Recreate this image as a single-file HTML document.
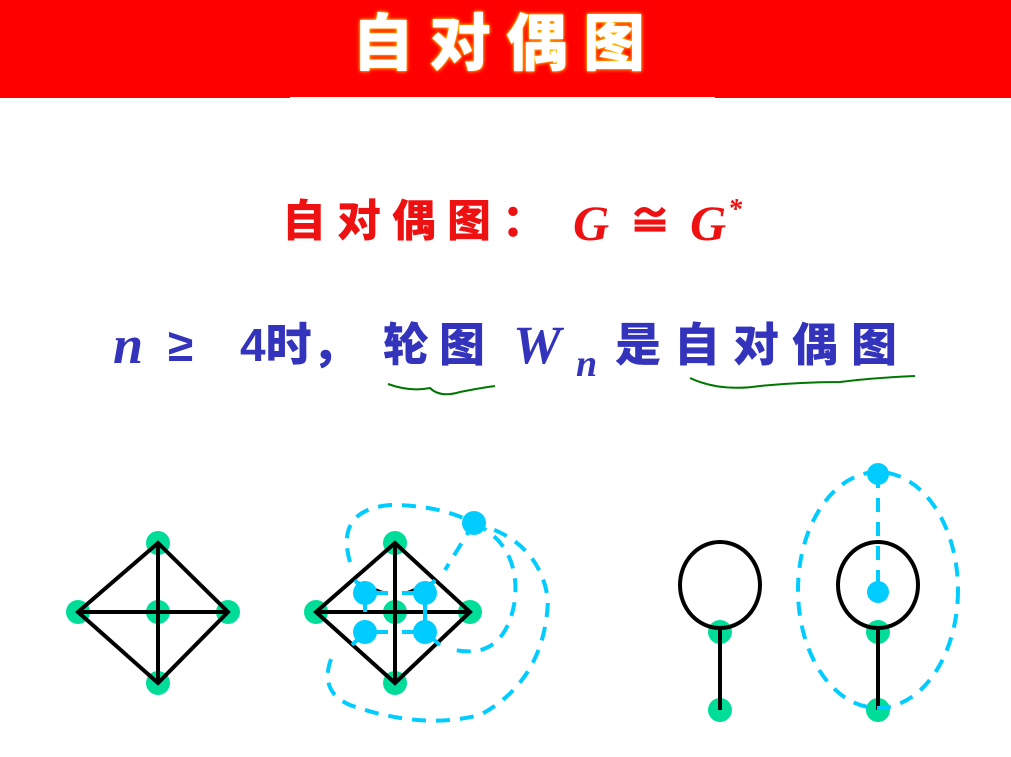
<!DOCTYPE html>
<html><head><meta charset="utf-8"><style>
body{margin:0;width:1011px;height:757px;background:#fff;overflow:hidden;position:relative;font-family:"Liberation Sans","Noto Sans CJK SC",sans-serif}
.banner{position:absolute;left:0;top:0;width:1011px;height:98px;background:#ff0000}
.t{position:absolute;white-space:nowrap;font-weight:900;line-height:1}
.title{left:352px;top:14px;color:#fff;font-size:62px;letter-spacing:15px;text-shadow:0 0 4px #ffcc00,0 0 2px #ffaa00}
.r{color:#ee1111}
.b{color:#3333bb}
.m{font-family:"Liberation Serif",serif;font-style:italic;font-weight:bold}
</style></head><body>
<div class="banner"></div>
<div style="position:absolute;left:290px;top:97px;width:425px;height:3px;background:#fff"></div>
<div class="t title">自对偶图</div>
<div>
<span class="t r" style="left:282px;top:200px;font-size:44px;letter-spacing:11px">自对偶图：</span>
<span class="t r m" style="left:573px;top:198px;font-size:50px">G</span>
<span class="t r" style="left:628px;top:200px;font-size:44px">≅</span>
<span class="t r m" style="left:690px;top:198px;font-size:50px">G</span>
<span class="t r m" style="left:728px;top:196px;font-size:28px">*</span>
</div>
<div>
<span class="t b m" style="left:113px;top:318px;font-size:54px">n</span>
<span class="t b" style="left:168px;top:322px;font-size:46px">≥</span>
<span class="t b" style="left:240px;top:322px;font-size:46px">4时，</span>
<span class="t b" style="left:383px;top:322px;font-size:46px;letter-spacing:10px">轮图</span>
<span class="t b m" style="left:513px;top:318px;font-size:54px">W</span>
<span class="t b m" style="left:576px;top:345px;font-size:38px">n</span>
<span class="t b" style="left:615px;top:322px;font-size:46px;letter-spacing:13px">是自对偶图</span>
</div>
<svg width="1011" height="757" style="position:absolute;left:0;top:0">
<g fill="none" stroke="#007700" stroke-width="2">
<path d="M388 384 Q410 392 430 388 Q440 398 460 392 Q480 388 495 386"/>
<path d="M690 378 Q720 392 760 386 Q800 382 840 382 Q870 378 915 376"/>
</g>
<g fill="#00dd99">
<circle cx="158" cy="543" r="12"/><circle cx="78" cy="612" r="12"/><circle cx="158" cy="612" r="12"/><circle cx="228" cy="612" r="12"/><circle cx="158" cy="683" r="12"/>
<circle cx="395" cy="543" r="12"/><circle cx="316" cy="612" r="12"/><circle cx="395" cy="612" r="12"/><circle cx="470" cy="612" r="12"/><circle cx="395" cy="683" r="12"/>
<circle cx="720" cy="632" r="12"/><circle cx="720" cy="710" r="12"/>
<circle cx="878" cy="632" r="12"/><circle cx="878" cy="710" r="12"/>
</g>
<g stroke="#000" stroke-width="4" fill="none">
<path d="M158 543 L78 612 L158 683 L228 612 Z M158 543 L158 683 M78 612 L228 612"/>
<path d="M395 543 L316 612 L395 683 L470 612 Z M395 543 L395 683 M316 612 L470 612"/>
<ellipse cx="720" cy="585" rx="40" ry="43"/><path d="M720 628 L720 710"/>
<ellipse cx="878" cy="585" rx="40" ry="43"/><path d="M878 628 L878 710"/>
</g>
<g stroke="#00ccff" stroke-width="4" fill="none" stroke-dasharray="14 10">
<path d="M350 562 Q335 510 390 505 Q440 505 474 523 Q540 540 548 600 Q545 680 480 715 Q420 730 350 705 Q315 690 335 650"/>
<path d="M474 523 Q520 545 515 600 Q505 660 455 650"/>
<path d="M474 523 L445 570"/>
<ellipse cx="878" cy="590" rx="80" ry="118"/>
<path d="M878 474 L878 592"/>
</g>
<g stroke="#00ccff" stroke-width="4">
<path d="M355 580 L365 593 L388 593 M365 593 L365 612 M435 580 L425 593 L402 593 M425 593 L425 612 M365 632 L388 632 M352 645 L365 632 M425 632 L402 632 M425 632 L425 612 M425 632 L440 645"/>
</g>
<g fill="#00ccff">
<circle cx="365" cy="593" r="12"/><circle cx="425" cy="593" r="12"/><circle cx="365" cy="632" r="12"/><circle cx="425" cy="632" r="12"/><circle cx="474" cy="523" r="12"/>
<circle cx="878" cy="592" r="11"/><circle cx="878" cy="474" r="11"/>
</g>
</svg>
</body></html>
